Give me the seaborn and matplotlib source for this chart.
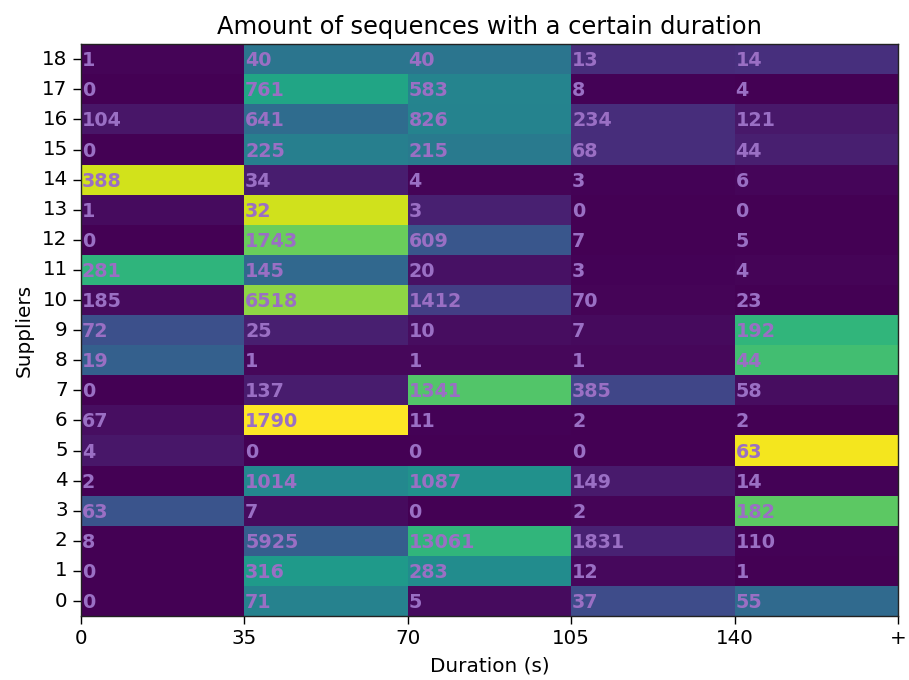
import numpy as np
import pandas as pd
import matplotlib
matplotlib.use('Agg')
import matplotlib.pyplot as plt
import seaborn as sns

# counts per supplier (rows 0..18) and duration bin (columns)
duration_bins = ['0', '35', '70', '105', '140']
x_tick_labels = ['0', '35', '70', '105', '140', '+']
suppliers = list(range(19))

counts = [
    [0, 71, 5, 37, 55],
    [0, 316, 283, 12, 1],
    [8, 5925, 13061, 1831, 110],
    [63, 7, 0, 2, 182],
    [2, 1014, 1087, 149, 14],
    [4, 0, 0, 0, 63],
    [67, 1790, 11, 2, 2],
    [0, 137, 1341, 385, 58],
    [19, 1, 1, 1, 44],
    [72, 25, 10, 7, 192],
    [185, 6518, 1412, 70, 23],
    [281, 145, 20, 3, 4],
    [0, 1743, 609, 7, 5],
    [1, 32, 3, 0, 0],
    [388, 34, 4, 3, 6],
    [0, 225, 215, 68, 44],
    [104, 641, 826, 234, 121],
    [0, 761, 583, 8, 4],
    [1, 40, 40, 13, 14],
]

df = pd.DataFrame(counts, index=suppliers, columns=duration_bins)
# colour by share of each supplier's sequences
share = df.div(df.sum(axis=1), axis=0)

fig = plt.figure(figsize=(9.09, 6.8), dpi=100)
ax = fig.add_axes([0.089, 0.094, 0.899, 0.841])
sns.heatmap(share, cmap='viridis', cbar=False, ax=ax)
ax.invert_yaxis()

for i, row in enumerate(counts):
    for j, val in enumerate(row):
        ax.text(j + 0.005, i + 0.45, str(val), ha='left', va='center',
                color='#9a6fc4', fontsize=13.8, fontweight='bold')

for s in ax.spines.values():
    s.set_visible(True)
    s.set_color('#222222')
    s.set_linewidth(1.0)

ax.set_xticks(np.arange(len(x_tick_labels)))
ax.set_xticklabels(x_tick_labels, fontsize=14.3, rotation=0)
ax.set_yticks(np.arange(len(suppliers)) + 0.5)
ax.set_yticklabels([str(s) for s in suppliers], fontsize=14.3, rotation=0)
ax.tick_params(length=6, width=1)

ax.set_title('Amount of sequences with a certain duration', fontsize=17.4, pad=7)
ax.set_xlabel('Duration (s)', fontsize=14.4, labelpad=6)
ax.set_ylabel('Suppliers', fontsize=14.4, labelpad=6)

fig.savefig('out.png', dpi=100)
